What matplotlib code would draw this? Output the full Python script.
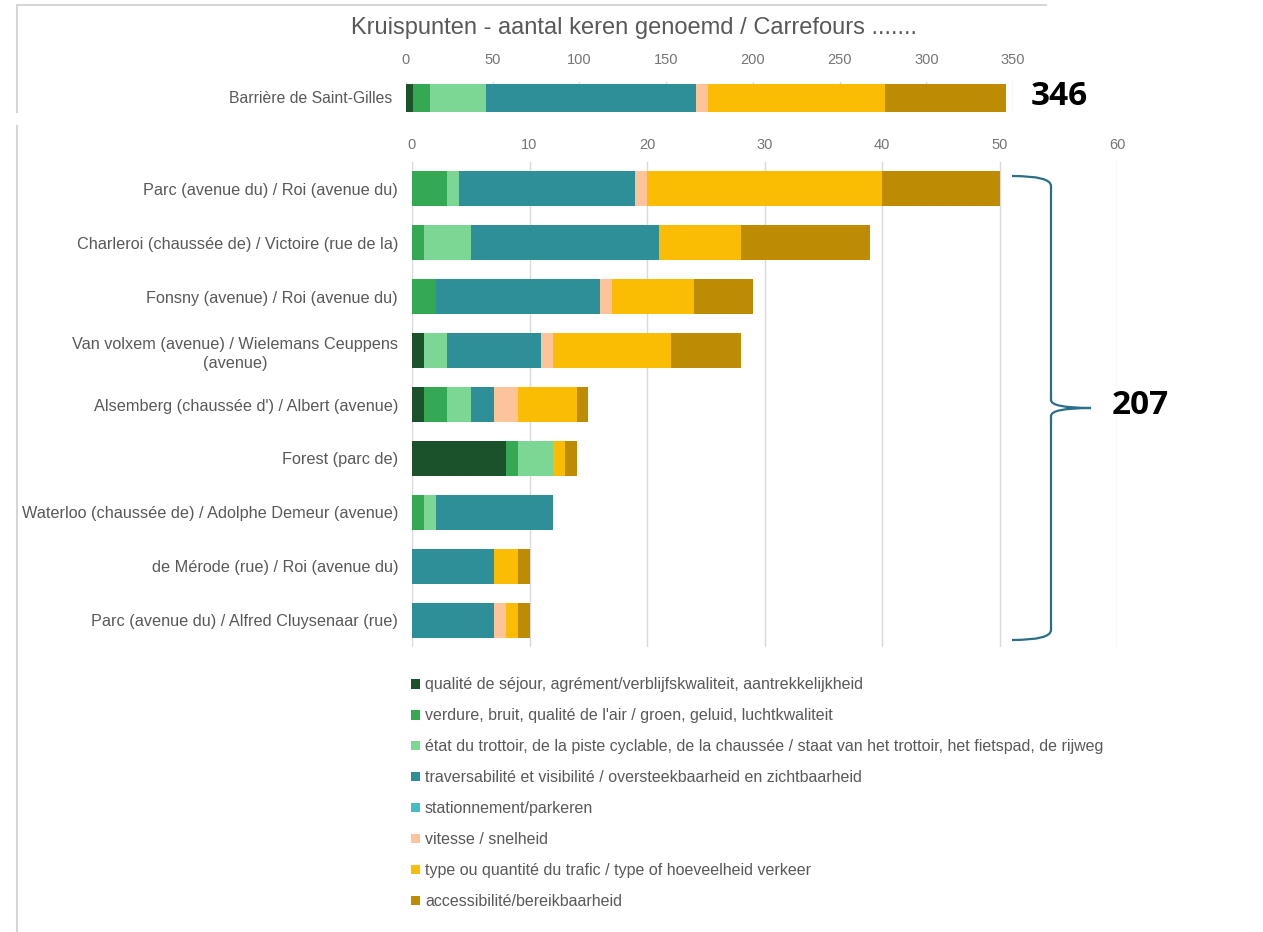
import numpy as np
import matplotlib
matplotlib.use("Agg")
import matplotlib.pyplot as plt
from matplotlib.path import Path
from matplotlib.patches import PathPatch
from matplotlib.lines import Line2D

plt.rcParams['font.family'] = ['Liberation Sans', 'DejaVu Sans']

# --- data ---
title = "Kruispunten - aantal keren genoemd / Carrefours ......."
top_label = "Barrière de Saint-Gilles"
top_values = [4, 10, 32, 121, 0, 7, 102, 70]

crossings = [
    "Parc (avenue du) / Roi (avenue du)",
    "Charleroi (chaussée de) / Victoire (rue de la)",
    "Fonsny (avenue) / Roi (avenue du)",
    "Van volxem (avenue) / Wielemans Ceuppens\n(avenue)",
    "Alsemberg (chaussée d') / Albert (avenue)",
    "Forest (parc de)",
    "Waterloo (chaussée de) / Adolphe Demeur (avenue)",
    "de Mérode (rue) / Roi (avenue du)",
    "Parc (avenue du) / Alfred Cluysenaar (rue)",
]
sejour = [0, 0, 0, 1, 1, 8, 0, 0, 0]
verdure = [3, 1, 2, 0, 2, 1, 1, 0, 0]
etat = [1, 4, 0, 2, 2, 3, 1, 0, 0]
traversabilite = [15, 16, 14, 8, 2, 0, 10, 7, 7]
stationnement = [0, 0, 0, 0, 0, 0, 0, 0, 0]
vitesse = [1, 0, 1, 1, 2, 0, 0, 0, 1]
trafic = [20, 7, 7, 10, 5, 1, 0, 2, 1]
accessibilite = [10, 11, 5, 6, 1, 1, 0, 1, 1]

series_names = [
    "qualité de séjour, agrément/verblijfskwaliteit, aantrekkelijkheid",
    "verdure, bruit, qualité de l'air / groen, geluid, luchtkwaliteit",
    "état du trottoir, de la piste cyclable, de la chaussée / staat van het trottoir, het fietspad, de rijweg",
    "traversabilité et visibilité / oversteekbaarheid en zichtbaarheid",
    "stationnement/parkeren",
    "vitesse / snelheid",
    "type ou quantité du trafic / type of hoeveelheid verkeer",
    "accessibilité/bereikbaarheid",
]
colors = ["#1B522B", "#34A853", "#7DD794", "#2E8F99",
          "#46BDC6", "#FDC39A", "#FBBC04", "#BE8C03"]

W, H = 1263, 932
fig = plt.figure(figsize=(W / 100, H / 100), dpi=100)


def fx(x):
    return x / W


def fy(y):
    return 1 - y / H


def add_axes_px(left, top, right, bottom):
    return fig.add_axes([fx(left), fy(bottom), (right - left) / W, (bottom - top) / H])


grid_c = "#DADADA"
text_c = "#595959"
tick_c = "#757575"

# --- top panel: Barrière de Saint-Gilles ---
ax1 = add_axes_px(406, 82, 1013, 112)
left = 0
for v, c in zip(top_values, colors):
    ax1.barh([101.5], [v], left=left, height=35, color=c, linewidth=0)
    left += v
ax1.set_ylim(112, 82)
ax1.set_xlim(0, 350)
ax1.set_xticks(np.arange(0, 351, 50))
ax1.xaxis.tick_top()
ax1.tick_params(axis='x', length=0, pad=11, labelsize=10.5, labelcolor=tick_c)
ax1.set_yticks([97])
ax1.set_yticklabels([top_label])
ax1.tick_params(axis='y', length=0, pad=10, labelsize=11.3, labelcolor=text_c)
ax1.grid(axis='x', color=grid_c, linewidth=1)
ax1.set_axisbelow(True)
for s in ax1.spines.values():
    s.set_visible(False)

fig.text(fx(634), fy(28), title, ha='center', va='center', fontsize=17, color=text_c)
fig.text(fx(1031), fy(97), str(sum(top_values)), ha='left', va='center',
         fontsize=24, fontweight='bold', family=['Open Sans', 'DejaVu Sans'], color='black')

# --- lower panel: other crossings ---
ax2 = add_axes_px(412, 162, 1117, 647)
data = [sejour, verdure, etat, traversabilite, stationnement, vitesse, trafic, accessibilite]
y = np.arange(len(crossings))
left = np.zeros(len(crossings))
for vals, c, name in zip(data, colors, series_names):
    ax2.barh(y, vals, left=left, height=0.65, color=c, linewidth=0, label=name)
    left += np.array(vals)
ax2.set_ylim(len(crossings) - 0.5, -0.5)
ax2.set_xlim(0, 60)
ax2.set_xticks(np.arange(0, 61, 10))
ax2.xaxis.tick_top()
ax2.tick_params(axis='x', length=0, pad=7, labelsize=10.5, labelcolor=tick_c)
ax2.set_yticks(y)
ax2.set_yticklabels(crossings, multialignment='center', linespacing=1.3)
ax2.tick_params(axis='y', length=0, pad=10, labelsize=11.7, labelcolor=text_c)
ax2.grid(axis='x', color=grid_c, linewidth=1)
ax2.set_axisbelow(True)
for s in ax2.spines.values():
    s.set_visible(False)

# legend
handles, labels = ax2.get_legend_handles_labels()
fig.legend(handles, labels, loc='upper left', bbox_to_anchor=(fx(397), fy(663)),
           frameon=False, fontsize=11.5, labelcolor=text_c,
           handlelength=0.55, handleheight=0.55, handletextpad=0.3, labelspacing=1.0)

# brace with the sum of the lower rows
verts = [(1012, 176), (1051, 176), (1051, 186), (1051, 400),
         (1051, 408), (1091, 408),
         (1051, 408), (1051, 416), (1051, 630),
         (1051, 640), (1012, 640)]
codes = [Path.MOVETO, Path.CURVE3, Path.CURVE3, Path.LINETO,
         Path.CURVE3, Path.CURVE3,
         Path.CURVE3, Path.CURVE3, Path.LINETO,
         Path.CURVE3, Path.CURVE3]
verts = [(fx(a), fy(b)) for a, b in verts]
fig.patches.append(PathPatch(Path(verts, codes), transform=fig.transFigure,
                             facecolor='none', edgecolor='#2A6F87', linewidth=1.6))
total = int(sum(sum(v) for v in data))
fig.text(fx(1112), fy(405), str(total), ha='left', va='center',
         fontsize=24, fontweight='bold', family=['Open Sans', 'DejaVu Sans'], color='black')

# panel borders of the screenshot
border = "#D6D6D6"
fig.lines.append(Line2D([fx(17), fx(1046)], [fy(5), fy(5)], transform=fig.transFigure,
                        color=border, linewidth=1.5))
fig.lines.append(Line2D([fx(17), fx(17)], [fy(5), fy(112)], transform=fig.transFigure,
                        color=border, linewidth=1.5))
fig.lines.append(Line2D([fx(17), fx(17)], [fy(126), fy(932)], transform=fig.transFigure,
                        color=border, linewidth=1.5))

fig.savefig("out.png", dpi=100)
